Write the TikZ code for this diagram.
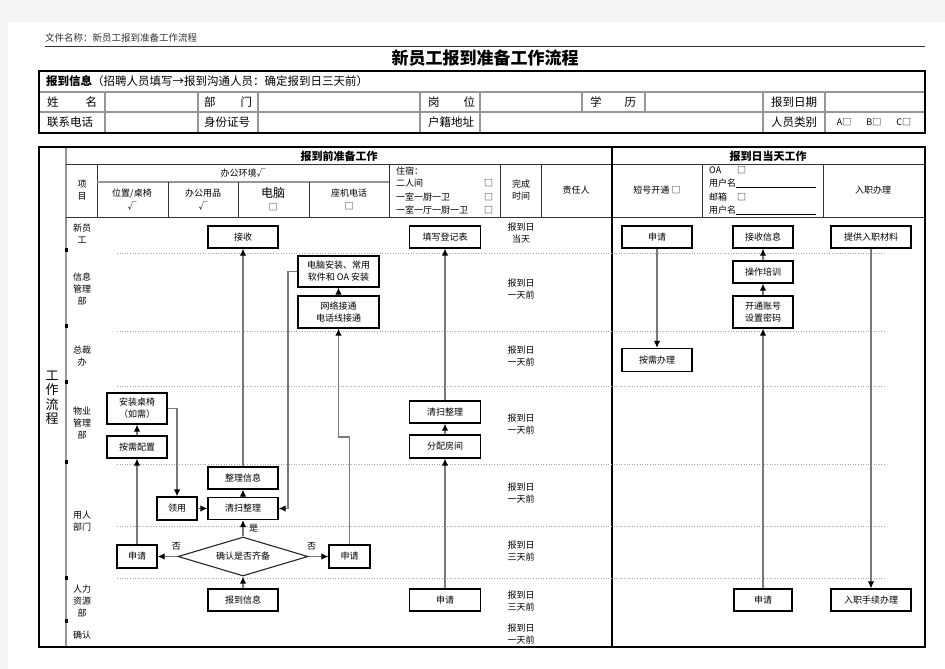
\documentclass[tikz,border=0pt]{standalone}
\usepackage{fontspec}
\setmainfont{Noto Sans CJK SC}
\usetikzlibrary{shapes.geometric, arrows.meta, positioning}
\definecolor{pagegray}{RGB}{244,244,244}
\definecolor{linegray}{RGB}{120,120,120}
\definecolor{gridgray}{RGB}{150,150,150}
\newcommand{\spreadtwo}[3]{\makebox[#1]{#2\hfill #3}}

\begin{document}
\begin{tikzpicture}[
  x=1pt, y=-1pt,
  small/.style={font=\fontsize{9}{12}\selectfont},
  flowbox/.style={
    draw=black,
    line width=1.1pt,
    fill=white,
    small,
    align=center,
    inner sep=1pt,
  },
  decide/.style={
    draw=black!85,
    line width=1.1pt,
    fill=white,
    diamond,
    aspect=3.3,
    small,
    minimum width=130pt,
    minimum height=39pt,
    inner sep=1pt,
  },
  flow/.style={draw=linegray, line width=1.5pt, -{Latex[color=black, length=7pt, width=6.5pt]}},
  lane/.style={small, align=center, inner sep=0pt},
  celltext/.style={small, anchor=west, inner sep=0pt},
  infotext/.style={font=\fontsize{11.5}{14}\selectfont, anchor=west, inner sep=0pt},
  headtext/.style={font=\fontsize{11}{13}\selectfont\bfseries, inner sep=0pt},
  frame/.style={draw=black, line width=1.5pt},
  grid/.style={draw=gridgray, line width=1.3pt},
  darkgrid/.style={draw=black!80, line width=1pt},
  sepline/.style={draw=gray!70, dotted, line width=0.6pt},
]
  \useasboundingbox (0,0) rectangle (945,669);
  \fill[pagegray] (0,0) rectangle (945,669);
  \fill[white] (8,22) rectangle (945,669);

  % === page header and title ===
  \node[anchor=west, inner sep=0pt, font=\fontsize{9.5}{11}\selectfont, text=black!80] (docname) at (45,38) {文件名称：新员工报到准备工作流程};
  \draw[black!80, line width=0.8pt] (45,46) -- (925,46);
  \node[font=\fontsize{17}{20}\selectfont\bfseries] (title) at (485,58) {新员工报到准备工作流程};

  % === info table ===
  \draw[grid] (39,92) -- (925,92) (39,112) -- (925,112);
  \foreach \x in {105,198,258,420,480,763,825} \draw[grid] (\x,92) -- (\x,133);
  \foreach \x in {582,645} \draw[grid] (\x,92) -- (\x,112);
  \draw[frame] (39,71) rectangle (925,133);

  \node[infotext] (info-head) at (46,81) {\textbf{报到信息}（招聘人员填写→报到沟通人员：确定报到日三天前）};
  \node[infotext] (f-name) at (47,102) {\spreadtwo{50pt}{姓}{名}};
  \node[infotext] (f-dept) at (204,102) {\spreadtwo{48pt}{部}{门}};
  \node[infotext] (f-post) at (428,102) {\spreadtwo{47pt}{岗}{位}};
  \node[infotext] (f-edu) at (590,102) {\spreadtwo{46pt}{学}{历}};
  \node[infotext] (f-date) at (771,102) {报到日期};
  \node[infotext] (f-tel) at (47,122) {联系电话};
  \node[infotext] (f-id) at (204,122) {身份证号};
  \node[infotext] (f-home) at (428,122) {户籍地址};
  \node[infotext] (f-type) at (771,122) {人员类别};
  \node[small, inner sep=0pt] (f-abc) at (874,122) {A□\hspace{15pt}B□\hspace{15pt}C□};

  % === flow table frame ===
  \draw[grid] (66,147) -- (66,647);
  \foreach \y in {250,326,382,462,578,621} \fill (64.5,\y-2) rectangle (67.5,\y+2);
  \draw[darkgrid] (66,164) -- (925,164) (66,217) -- (925,217);
  \draw[darkgrid] (97,164) -- (97,217);
  \draw[grid] (97,182) -- (389,182);
  \foreach \x in {168,238,309} \draw[darkgrid] (\x,182) -- (\x,217);
  \foreach \x in {389,500,541,702,823} \draw[darkgrid] (\x,164) -- (\x,217);
  \draw[black, line width=1.3pt] (612,147) -- (612,647);
  \draw[frame] (39,147) rectangle (925,647);

  \node[font=\fontsize{13}{14.5}\selectfont, align=center, inner sep=0pt] (workflow) at (52,398) {工\\作\\流\\程};
  \node[headtext] (pre-head) at (339,156) {报到前准备工作};
  \node[headtext] (day-head) at (768,156) {报到日当天工作};

  % header cells
  \node[lane] (h-item) at (82,190) {项\\目};
  \node[lane] (h-env) at (243,173) {办公环境√};
  \node[lane, font=\fontsize{9}{13}\selectfont] (h-seat) at (132,199.5) {位置/桌椅\\√};
  \node[lane, font=\fontsize{9}{13}\selectfont] (h-supply) at (203,199.5) {办公用品\\√};
  \node[lane, font=\fontsize{12}{13}\selectfont] (h-pc) at (273,199.5) {电脑\\{\fontsize{9}{10}\selectfont □}};
  \node[lane, font=\fontsize{9}{13}\selectfont] (h-phone) at (349,199.5) {座机电话\\□};
  \node[celltext] (h-dorm) at (396,171) {住宿：};
  \foreach \y/\t [count=\i] in {183/二人间, 197/一室一厨一卫, 210/一室一厅一厨一卫} {
    \node[celltext] (h-room\i) at (396,\y) {\t};
    \node[celltext] (h-roombox\i) at (484,\y) {□};
  }
  \node[lane] (h-time) at (521,190) {完成\\时间};
  \node[lane] (h-owner) at (576,190) {责任人};
  \node[lane] (h-short) at (657,190) {短号开通 □};
  \node[celltext] (h-oa) at (709,170) {OA};
  \node[celltext] (h-oabox) at (737,170) {□};
  \node[celltext] (h-user1) at (709,183) {用户名};
  \node[celltext] (h-mail) at (709,197) {邮箱};
  \node[celltext] (h-mailbox) at (737,197) {□};
  \node[celltext] (h-user2) at (709,210) {用户名};
  \draw[black, line width=0.7pt] (h-user1.south east) -- ++(80,0);
  \draw[black, line width=0.7pt] (h-user2.south east) -- ++(80,0);
  \node[lane] (h-entry) at (873,190) {入职办理};

  % lane separators
  \foreach \y in {253,331,386,464,526,578} \draw[sepline] (117,\y) -- (885,\y);

  % lane names
  \node[lane] (lane-new) at (82,234) {新员\\工};
  \node[lane] (lane-it) at (82,289) {信息\\管理\\部};
  \node[lane] (lane-ceo) at (82,356) {总裁\\办};
  \node[lane] (lane-prop) at (82,423) {物业\\管理\\部};
  \node[lane] (lane-user) at (82,521) {用人\\部门};
  \node[lane] (lane-hr) at (82,601) {人力\\资源\\部};
  \node[lane] (lane-ok) at (82,635) {确认};

  % completion times
  \foreach \y/\t [count=\i] in {233/当天, 289/一天前, 356/一天前, 424/一天前, 493/一天前, 551/三天前, 601/三天前, 634/一天前}
    \node[lane] (when\i) at (521,\y) {报到日\\\t};

  % === before the day ===
  \node[flowbox, minimum width=70pt, minimum height=22pt] (jieshou) at (243,237) {接收};
  \node[flowbox, minimum width=81pt, minimum height=31pt] (diannao) at (338.5,271.5) {电脑安装、常用\\软件和 OA 安装};
  \node[flowbox, minimum width=81pt, minimum height=32pt] (wangluo) at (338.5,312) {网络接通\\电话线接通};
  \node[flowbox, minimum width=71pt, minimum height=22pt] (dengji) at (445,237) {填写登记表};
  \node[flowbox, minimum width=60pt, minimum height=31pt] (anzhuang) at (137,408.5) {安装桌椅\\（如需）};
  \node[flowbox, minimum width=60pt, minimum height=22pt] (peizhi) at (137,447) {按需配置};
  \node[flowbox, minimum width=70pt, minimum height=22pt] (zhengli) at (243,478) {整理信息};
  \node[flowbox, minimum width=70pt, minimum height=22pt] (qingsao) at (243,508.5) {清扫整理};
  \node[flowbox, minimum width=40pt, minimum height=23pt] (lingyong) at (177,508.5) {领用};
  \node[flowbox, minimum width=40pt, minimum height=23pt] (shenqingL) at (137,556.5) {申请};
  \node[decide] (queren) at (243,556.5) {确认是否齐备};
  \node[flowbox, minimum width=41pt, minimum height=23pt] (shenqingR) at (349.5,556.5) {申请};
  \node[flowbox, minimum width=70pt, minimum height=22pt] (baodao) at (243,600) {报到信息};
  \node[flowbox, minimum width=71pt, minimum height=22pt] (qingsaoM) at (445,412) {清扫整理};
  \node[flowbox, minimum width=71pt, minimum height=23pt] (fenpei) at (445,446.5) {分配房间};
  \node[flowbox, minimum width=71pt, minimum height=22pt] (shenqingM) at (445,600) {申请};

  \coordinate (itjog) at (338.5,437);
  \coordinate (pcjog) at (288,508.5);

  \draw[flow] (zhengli.north) -- (jieshou.south);
  \draw[flow] (wangluo.north) -- (diannao.south);
  \draw[flow] (shenqingR.north) |- (itjog) -- (wangluo.south);
  \draw[flow] (diannao.west) -| (pcjog) -- (qingsao.east);
  \draw[flow] (qingsao.north) -- (zhengli.south);
  \draw[flow] (lingyong.east) -- (qingsao.west);
  \draw[flow] (peizhi.north) -- (anzhuang.south);
  \draw[flow] (anzhuang.east) -| (lingyong.north);
  \draw[flow] (shenqingL.north) -- (peizhi.south);
  \draw[flow] (queren.north) -- node[small, right=2pt] {是} (qingsao.south);
  \draw[flow] (queren.west) -- node[small, pos=0.05, above=2pt] {否} (shenqingL.east);
  \draw[flow] (queren.east) -- node[small, pos=0.15, above=2pt] {否} (shenqingR.west);
  \draw[flow] (baodao.north) -- (queren.south);
  \draw[flow] (fenpei.north) -- (qingsaoM.south);
  \draw[flow] (qingsaoM.north) -- (dengji.south);
  \draw[flow] (shenqingM.north) -- (fenpei.south);

  % === on the day ===
  \node[flowbox, minimum width=70pt, minimum height=22pt] (shenqingT) at (657,237) {申请};
  \node[flowbox, minimum width=60pt, minimum height=22pt] (jieshouxx) at (763,237) {接收信息};
  \node[flowbox, minimum width=80pt, minimum height=22pt] (tigong) at (871,237) {提供入职材料};
  \node[flowbox, minimum width=60pt, minimum height=22pt] (peixun) at (763,272) {操作培训};
  \node[flowbox, minimum width=60pt, minimum height=32pt] (kaitong) at (763,312) {开通账号\\设置密码};
  \node[flowbox, minimum width=70pt, minimum height=23pt] (banli) at (657,360) {按需办理};
  \node[flowbox, minimum width=58pt, minimum height=22pt] (shenqingB) at (763,600) {申请};
  \node[flowbox, minimum width=80pt, minimum height=22pt] (ruzhi) at (871,600) {入职手续办理};

  \draw[flow] (shenqingT.south) -- (banli.north);
  \draw[flow] (peixun.north) -- (jieshouxx.south);
  \draw[flow] (kaitong.north) -- (peixun.south);
  \draw[flow] (shenqingB.north) -- (kaitong.south);
  \draw[flow] (tigong.south) -- (ruzhi.north);

\end{tikzpicture}
\end{document}
